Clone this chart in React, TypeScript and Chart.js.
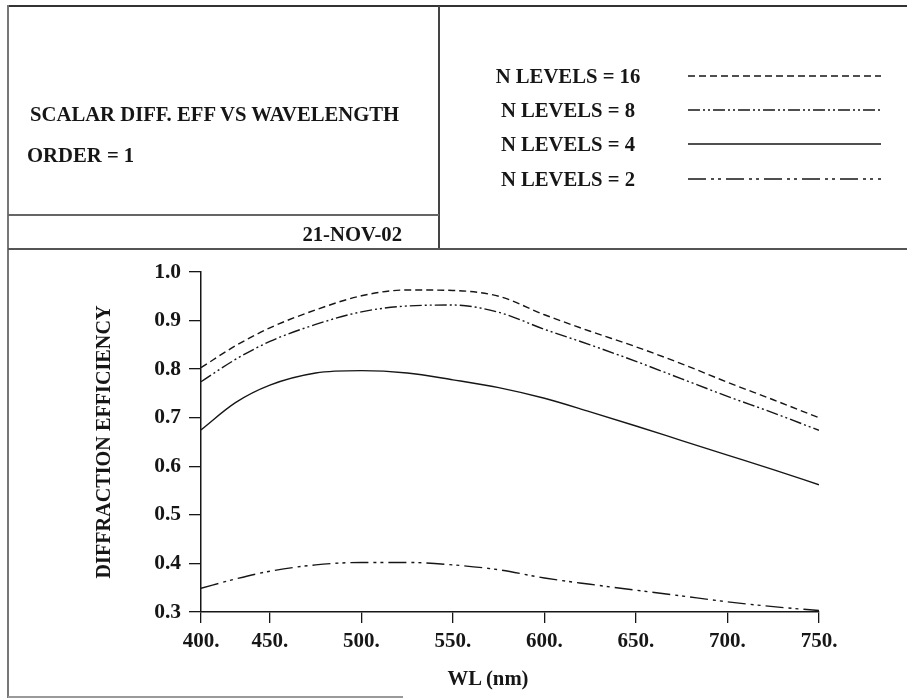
import React, { useEffect, useRef } from "react";
import { Chart, registerables, LinearScale } from "chart.js";

Chart.register(...registerables);

// ---- data ----
const wavelengths = [400, 425, 450, 475, 500, 525, 550, 575, 600, 625, 650, 675, 700, 725, 750];
const levels16 = [0.803, 0.848, 0.885, 0.922, 0.951, 0.963, 0.962, 0.950, 0.912, 0.878, 0.846, 0.811, 0.773, 0.737, 0.700];
const levels8 = [0.774, 0.820, 0.857, 0.892, 0.918, 0.930, 0.932, 0.917, 0.882, 0.850, 0.816, 0.780, 0.744, 0.710, 0.674];
const levels4 = [0.675, 0.731, 0.767, 0.792, 0.797, 0.792, 0.778, 0.762, 0.740, 0.712, 0.683, 0.653, 0.623, 0.593, 0.562];
const levels2 = [0.349, 0.368, 0.384, 0.397, 0.402, 0.402, 0.397, 0.387, 0.370, 0.357, 0.345, 0.333, 0.321, 0.311, 0.303];
const seriesLabels = ["N LEVELS = 16", "N LEVELS = 8", "N LEVELS = 4", "N LEVELS = 2"];
const xTicks = [400, 450, 500, 550, 600, 650, 700, 750];
const yTicks = [0.3, 0.4, 0.5, 0.6, 0.7, 0.8, 0.9, 1.0];

// The original plot's x axis has a shorter first interval (400-450) than the others.
const FIRST_FRACTION = 0.1115;
function warp(v: number) {
  if (v <= 450) return ((v - 400) / 50) * FIRST_FRACTION;
  return FIRST_FRACTION + ((v - 450) / 300) * (1 - FIRST_FRACTION);
}
function unwarp(d: number) {
  if (d <= FIRST_FRACTION) return 400 + (d / FIRST_FRACTION) * 50;
  return 450 + ((d - FIRST_FRACTION) / (1 - FIRST_FRACTION)) * 300;
}

class WarpedLinearScale extends LinearScale {
  static id = "warpedLinear";
  static defaults = (LinearScale as any).defaults;
  getPixelForValue(value: any) {
    if (value === null || value === undefined || isNaN(value)) return NaN;
    return this.getPixelForDecimal(warp(value));
  }
  getValueForPixel(pixel: number) {
    return unwarp(this.getDecimalForPixel(pixel));
  }
}
Chart.register(WarpedLinearScale as any);

const INK = "#161616";
const FONT = "'Liberation Serif', 'Times New Roman', serif";

const dashes = [[7, 4], [12, 3, 2, 3, 2, 3], [], [18, 5, 3, 4, 3, 5]];
const legendY = [76, 110, 144, 179];

const legendPlugin = {
  id: "sampleLegend",
  afterDraw(chart: any) {
    const ctx = chart.ctx;
    ctx.save();
    chart.data.datasets.forEach((ds: any, i: number) => {
      ctx.beginPath();
      ctx.setLineDash(ds.borderDash || []);
      ctx.strokeStyle = ds.borderColor;
      ctx.lineWidth = ds.borderWidth;
      ctx.moveTo(688, legendY[i]);
      ctx.lineTo(881, legendY[i]);
      ctx.stroke();
    });
    ctx.restore();
  },
};

function App() {
  const ref = useRef<HTMLCanvasElement | null>(null);
  useEffect(() => {
    if (!ref.current) return;
    const all = [levels16, levels8, levels4, levels2];
    const chart = new Chart(ref.current, {
      type: "line",
      data: {
        datasets: all.map((vals, i) => ({
          label: seriesLabels[i],
          data: wavelengths.map((w, j) => ({ x: w, y: vals[j] })),
          borderColor: INK,
          borderWidth: 1.4,
          borderDash: dashes[i],
          pointRadius: 0,
          fill: false,
          cubicInterpolationMode: "monotone" as const,
        })),
      },
      options: {
        animation: false,
        responsive: false,
        devicePixelRatio: 1,
        layout: { padding: { left: 0, right: 88, top: 272, bottom: 0 } },
        plugins: { legend: { display: false }, tooltip: { enabled: false } },
        scales: {
          x: {
            type: "warpedLinear" as any,
            min: 400,
            max: 750,
            afterFit: (s: any) => { s.height = 86; },
            afterBuildTicks: (s: any) => { s.ticks = xTicks.map((v) => ({ value: v })); },
            ticks: {
              color: INK,
              padding: 6,
              maxRotation: 0,
              autoSkip: false,
              font: { family: FONT, size: 21, weight: "bold" },
              callback: (v: any) => `${v}.`,
            },
            grid: { drawOnChartArea: false, drawTicks: true, tickLength: 11, color: INK, lineWidth: 1.3 },
            border: { display: true, color: INK, width: 1.5 },
            title: { display: false },
          },
          y: {
            type: "linear",
            min: 0.3,
            max: 1.0,
            afterFit: (s: any) => { s.width = 201; },
            afterBuildTicks: (s: any) => { s.ticks = yTicks.map((v) => ({ value: v })); },
            ticks: {
              color: INK,
              padding: 8,
              font: { family: FONT, size: 21.5, weight: "bold" },
              callback: (v: any) => Number(v).toFixed(1),
            },
            grid: { drawOnChartArea: false, drawTicks: true, tickLength: 12, color: INK, lineWidth: 1.3 },
            border: { display: true, color: INK, width: 1.5 },
            title: {
              display: true,
              text: "DIFFRACTION EFFICIENCY",
              color: INK,
              font: { family: FONT, size: 20.2, weight: "bold" },
              padding: { top: 93, bottom: 0 },
            },
          },
        },
      },
      plugins: [legendPlugin],
    });
    return () => chart.destroy();
  }, []);

  const text: React.CSSProperties = {
    position: "absolute",
    fontFamily: FONT,
    fontWeight: "bold",
    fontSize: 20.7,
    lineHeight: "20px",
    color: INK,
    whiteSpace: "nowrap",
  };
  const line = (l: number, t: number, w: number, h: number, c: string): React.CSSProperties => ({
    position: "absolute",
    left: l,
    top: t,
    width: w,
    height: h,
    background: c,
  });

  return (
    <div style={{ position: "fixed", left: 0, top: 0, width: 907, height: 698, background: "#fff", overflow: "hidden" }}>
      <canvas ref={ref} width={907} height={698} style={{ position: "absolute", left: 0, top: 0, width: 907, height: 698 }} />
      <div style={line(8, 5, 899, 2, "#333")} />
      <div style={line(7, 5, 2, 693, "#777")} />
      <div style={line(438, 6, 2, 244, "#444")} />
      <div style={line(8, 214, 431, 2, "#666")} />
      <div style={line(8, 248, 899, 2, "#555")} />
      <div style={line(8, 696, 395, 2, "#999")} />
      <div style={{ ...text, left: 30, top: 104 }}>SCALAR DIFF. EFF VS WAVELENGTH</div>
      <div style={{ ...text, left: 27, top: 145 }}>ORDER = 1</div>
      <div style={{ ...text, left: 0, width: 402, textAlign: "right", top: 224 }}>21-NOV-02</div>
      {seriesLabels.map((s, i) => (
        <div key={s} style={{ ...text, left: 468, width: 200, textAlign: "center", top: legendY[i] - 10 }}>{s}</div>
      ))}
      <div style={{ ...text, left: 388, width: 200, textAlign: "center", top: 668 }}>WL (nm)</div>
    </div>
  );
}

export default App;
